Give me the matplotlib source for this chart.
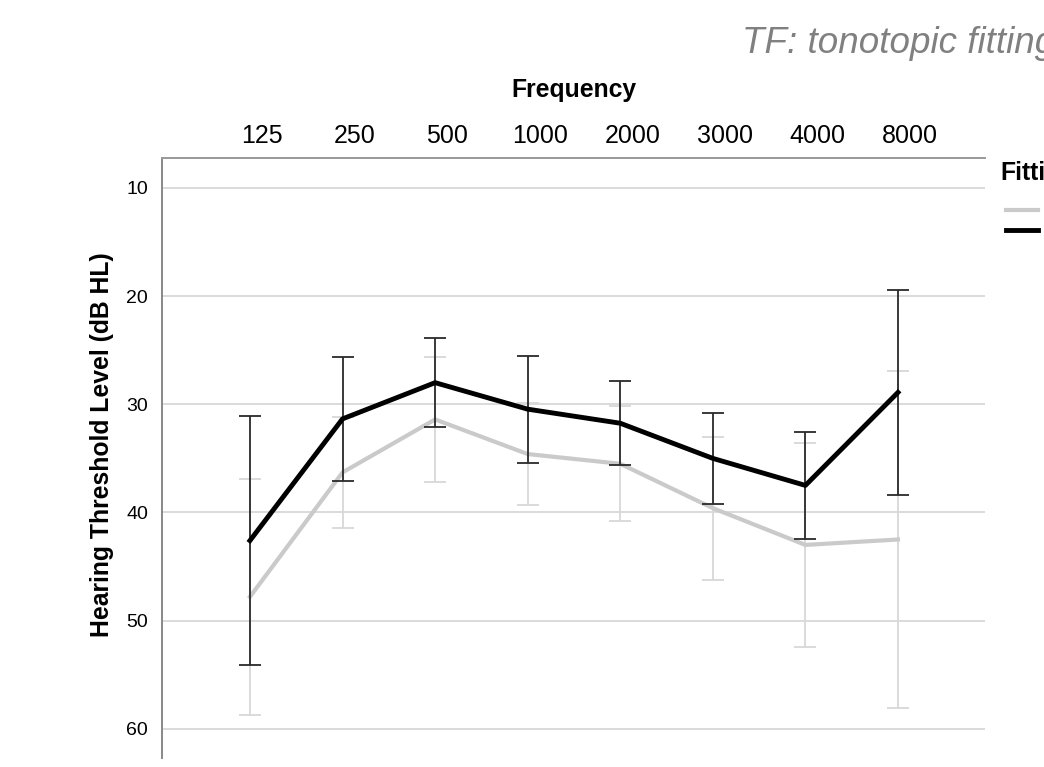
import numpy as np
import matplotlib.pyplot as plt
from matplotlib.transforms import ScaledTranslation

# frequencies (Hz) shown as categories on the top axis
frequencies = ['125', '250', '500', '1000', '2000', '3000', '4000', '8000']

# mean hearing thresholds (dB HL) and error bar half-widths
standard_mean = [47.8, 36.3, 31.4, 34.6, 35.5, 39.6, 43.0, 42.5]
standard_err = [10.9, 5.1, 5.75, 4.75, 5.3, 6.6, 9.4, 15.6]
tf_mean = [42.6, 31.35, 28.0, 30.45, 31.75, 35.0, 37.5, 28.9]
tf_err = [11.5, 5.75, 4.1, 4.95, 3.9, 4.2, 4.95, 9.5]

series_labels = ['Standard', 'TF']
legend_title = 'Fitting'

W, H = 1044, 767
fig = plt.figure(figsize=(W / 100, H / 100), dpi=100)
ax = fig.add_axes([162 / W, 1 - 758 / H, 823 / W, 600 / H])

x = np.arange(len(frequencies))

# gris en dessous, noir au-dessus
ax.errorbar(x, standard_mean, yerr=standard_err, color='#cacaca', lw=3,
            ecolor='#d8d8d8', elinewidth=1.3, capsize=8, capthick=1.3,
            label=series_labels[0], zorder=3)
ax.errorbar(x, tf_mean, yerr=tf_err, color='black', lw=3.5,
            ecolor='#2a2a2a', elinewidth=1.3, capsize=8, capthick=1.3,
            label=series_labels[1], zorder=4)

ax.set_xlim(-0.95, 7.94)
ax.set_ylim(62.7, 7.23)

ax.set_yticks([10, 20, 30, 40, 50, 60])
ax.yaxis.grid(True, color='#d4d4d4', lw=1.2)
ax.set_axisbelow(True)
for lab in ax.get_yticklabels():
    lab.set_fontfamily('Liberation Sans')
    lab.set_fontsize(14)
ax.tick_params(axis='y', length=0, pad=10)

ax.xaxis.tick_top()
ax.xaxis.set_label_position('top')
ax.set_xticks(x)
ax.set_xticklabels(frequencies, fontsize=18, family='Liberation Sans')
ax.tick_params(axis='x', length=0, pad=7)
# les etiquettes sont un peu decalees vers la droite
decal = ScaledTranslation(12 / 100, 0, fig.dpi_scale_trans)
for lab in ax.get_xticklabels():
    lab.set_transform(lab.get_transform() + decal)

ax.set_xlabel('Frequency', fontsize=17.8, fontweight='bold',
              family='Liberation Sans', labelpad=19.5)
ax.set_ylabel('Hearing Threshold Level (dB HL)', fontsize=17.8, fontweight='bold',
              family='Liberation Sans', labelpad=9, y=0.523)

ax.spines['right'].set_visible(False)
ax.spines['bottom'].set_visible(False)
ax.spines['top'].set_color('#999999')
ax.spines['top'].set_linewidth(1.4)
ax.spines['left'].set_color('#888888')
ax.spines['left'].set_linewidth(1.4)

# legende coupee par le bord droit, comme dans l'original
fig.text(1000 / W, 1 - 180 / H, legend_title, family='Liberation Sans',
         fontweight='bold', fontsize=17.8, ha='left', va='baseline')
handles, labels = ax.get_legend_handles_labels()
handles = [h[0] for h in handles]
fig.legend(handles, labels, loc='upper left', bbox_to_anchor=(1006 / W, 1 - 203.5 / H),
           frameon=False, handlelength=1.75, borderpad=0,
           borderaxespad=0, labelspacing=0.13, prop={'family': 'Liberation Sans', 'size': 13})

fig.text(742 / W, 1 - 53 / H, 'TF: tonotopic fitting', family='Liberation Sans',
         style='italic', color='#808080', fontsize=26.5, va='baseline', ha='left')

fig.savefig('out.png', dpi=100)
